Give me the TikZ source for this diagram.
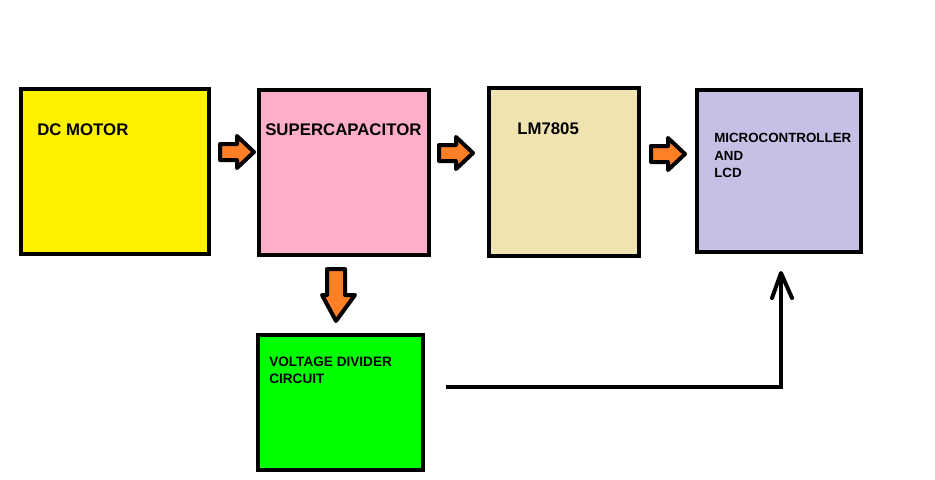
\documentclass[tikz,border=0pt]{standalone}
\usepackage{fontspec}
\setmainfont{Liberation Sans}
\usetikzlibrary{arrows.meta,calc}
\definecolor{cyellow}{HTML}{FFF200}
\definecolor{cpink}{HTML}{FFAEC9}
\definecolor{ctan}{HTML}{EFE4B0}
\definecolor{clav}{HTML}{C8BFE7}
\definecolor{cgreen}{HTML}{00FF00}
\definecolor{corange}{HTML}{FF7F27}
\tikzset{
  blk/.style={draw=black, line width=3pt},
  lbl/.style={anchor=base west, inner sep=0pt, font=\bfseries},
  barrow/.style={fill=corange, draw=black, line width=3pt, line join=round},
  wire/.style={draw=black, line width=3pt}
}
\begin{document}
\begin{tikzpicture}[x=0.75pt, y=-0.75pt]
\useasboundingbox (0,0) rectangle (935,479);
% boxes
\draw[blk, fill=cyellow] (21,89) rectangle (209,254);
\draw[blk, fill=cpink] (259,90) rectangle (429,255);
\draw[blk, fill=ctan] (489,88) rectangle (639,256);
\draw[blk, fill=clav] (697,90) rectangle (861,252);
\draw[blk, fill=cgreen] (258,335) rectangle (423,470);
% labels
\node[lbl, font=\bfseries\fontsize{12.6}{15}\selectfont] (dc) at (37,135) {DC MOTOR};
\node[lbl, font=\bfseries\fontsize{12.6}{15}\selectfont] (sc) at (265,135) {SUPERCAPACITOR};
\node[lbl, font=\bfseries\fontsize{12.6}{15}\selectfont] (lm) at (517,134) {LM7805};
\node[lbl, font=\bfseries\fontsize{10}{12}\selectfont] (mc1) at (714,142) {MICROCONTROLLER};
\node[lbl, font=\bfseries\fontsize{10}{12}\selectfont] (mc2) at (714,160) {AND};
\node[lbl, font=\bfseries\fontsize{10}{12}\selectfont] (mc3) at (714,177) {LCD};
\node[lbl, font=\bfseries\fontsize{10.2}{12}\selectfont] (vd1) at (269,366) {VOLTAGE DIVIDER};
\node[lbl, font=\bfseries\fontsize{10.2}{12}\selectfont] (vd2) at (269,383) {CIRCUIT};
% block arrows (right)
\foreach \x/\y in {220/152, 439/153, 651/154}{
  \draw[barrow] (\x,\y-8) -- (\x+17,\y-8) -- (\x+17,\y-16) -- (\x+34,\y)
    -- (\x+17,\y+16) -- (\x+17,\y+8) -- (\x,\y+8) -- cycle;
}
% block arrow (down)
\draw[barrow] (327,269) -- (345,269) -- (345,295) -- (355,295) -- (336,321)
  -- (322,295) -- (327,295) -- cycle;
% feedback wire
\coordinate (ws) at (446,387);
\coordinate (wc) at (781,387);
\coordinate (we) at (781,273);
\draw[wire, line cap=butt] (ws) -- (wc) -- (we);
\draw[wire, line cap=round, line join=round] ($(we)+(-9,25)$) -- (we) -- ($(we)+(11,25)$);
\end{tikzpicture}
\end{document}
